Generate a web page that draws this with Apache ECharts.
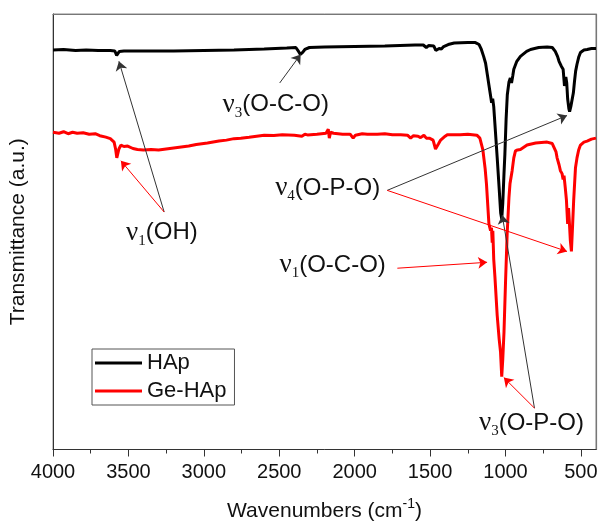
<!DOCTYPE html>
<html>
<head>
<meta charset="utf-8">
<script src="https://cdn.jsdelivr.net/npm/echarts@6/dist/echarts.min.js"></script>
<style>
  html, body { margin: 0; padding: 0; background: #fff; }
  #main { width: 602px; height: 527px; }
</style>
</head>
<body>
<div id="main"></div>
<script>
// wavenumber (cm-1) and transmittance (a.u.)
var hapWave = [4000, 3930, 3850, 3780, 3700, 3620, 3590, 3578, 3570, 3560, 3530, 3400, 3200, 3000, 2800, 2600, 2450, 2390, 2372, 2360, 2345, 2330, 2300, 2200, 2000, 1800, 1600, 1545, 1525, 1510, 1475, 1462, 1452, 1440, 1425, 1410, 1380, 1340, 1250, 1200, 1175, 1160, 1145, 1132, 1120, 1110, 1100, 1092, 1085, 1078, 1070, 1055, 1042, 1032, 1025, 1018, 1010, 1004, 996, 988, 977, 968, 960, 952, 945, 925, 901, 860, 834, 780, 724, 690, 670, 655, 645, 630, 618, 609, 600, 594, 588, 580, 575, 567, 559, 550, 543, 535, 526, 515, 503, 480, 459, 430, 400];
var hapT = [405.5, 406, 405, 405.5, 405, 405, 404.5, 400, 399.5, 404, 404.5, 404.5, 404.5, 405, 405.5, 406.5, 407.5, 408, 404, 401, 403, 406, 408, 408.5, 409, 409.5, 410.5, 410.5, 408, 410, 409.5, 405, 403.5, 407, 406.5, 409, 411, 412.5, 413, 413, 411, 406, 399, 392, 380, 370, 360, 352, 356, 348, 330, 296, 265, 240, 234, 250, 280, 300, 335, 360, 373, 377, 372, 379, 386, 394, 399, 404, 406, 408, 408.5, 408, 404, 399, 394, 389, 386, 369, 378, 372, 356, 346, 343, 348, 349, 362, 373, 384, 391, 398, 403, 405.5, 406, 407, 407];

var geWave = [4000, 3960, 3930, 3900, 3870, 3840, 3800, 3760, 3720, 3690, 3650, 3620, 3595, 3585, 3577, 3570, 3563, 3550, 3530, 3505, 3470, 3440, 3400, 3350, 3300, 3250, 3200, 3150, 3100, 3050, 2976, 2900, 2850, 2800, 2755, 2700, 2650, 2600, 2536, 2480, 2400, 2350, 2330, 2313, 2250, 2190, 2175, 2168, 2160, 2140, 2080, 2030, 2010, 1995, 1950, 1916, 1850, 1800, 1750, 1695, 1650, 1629, 1610, 1580, 1563, 1541, 1525, 1519, 1505, 1480, 1464, 1455, 1445, 1430, 1419, 1400, 1386, 1300, 1250, 1190, 1170, 1150, 1135, 1126, 1118, 1110, 1099, 1093, 1088, 1084, 1078, 1070, 1055, 1042, 1033, 1025, 1018, 1010, 1000, 989, 977, 970, 962, 956, 945, 934, 920, 901, 857, 800, 724, 690, 680, 665, 658, 645, 636, 625, 618, 612, 604, 596, 588, 582, 577, 570, 563, 555, 548, 536, 526, 515, 503, 480, 459, 430, 400];
var geT = [322, 321, 322.5, 320.5, 322, 321, 321.5, 320, 320.5, 318.5, 317, 315.5, 312, 305, 296, 298, 305, 309, 307.5, 308, 305.5, 304.5, 304, 304.5, 304, 305, 306, 307, 308, 309.5, 311, 313, 314, 315.5, 316, 317, 318, 319, 318.7, 319.5, 319, 318, 320, 319.3, 320, 321, 325, 316, 322, 321, 320, 320, 316, 319, 320.5, 320, 320, 320.5, 319.5, 319.5, 319, 316, 318.5, 318, 316.5, 319, 316, 314, 316, 314, 305, 303, 310, 314, 314.5, 318, 319.5, 319.5, 320, 319, 316, 304, 285, 269, 249, 229, 222, 225, 210, 222, 193, 175, 136, 112, 99, 74, 92, 119, 169, 219, 256, 270, 268, 283, 296, 303, 304, 304.5, 309, 311, 312, 310.5, 309, 302, 296, 289, 283, 280, 274, 278, 266, 253, 229, 245, 232, 212, 201, 228, 253, 286, 296, 304, 309, 312, 313, 315, 316];

var majorTicks = [500, 1000, 1500, 2000, 2500, 3000, 3500, 4000];
var minorTicks = [750, 1250, 1750, 2250, 2750, 3250, 3750];

// band labels: [text, wavenumber, transmittance]
var bandLabels = [
  ['{nu|ν}{sub|3}{t|(O-C-O)}', 2523, 350],
  ['{nu|ν}{sub|1}{t|(OH)}', 3278, 220],
  ['{nu|ν}{sub|4}{t|(O-P-O)}', 2179, 265],
  ['{nu|ν}{sub|1}{t|(O-C-O)}', 2146, 187],
  ['{nu|ν}{sub|3}{t|(O-P-O)}', 828, 27]
];
// arrows: [from wavenumber, from T, to wavenumber, to T]
var blackArrows = [
  [2497, 372, 2358, 401],
  [3263, 241, 3563, 394],
  [1784, 263, 592, 339],
  [808, 42, 1022, 238]
];
var redArrows = [
  [3263, 241, 3550, 293],
  [1784, 263, 592, 201],
  [1717, 184, 1122, 190],
  [808, 42, 1011, 73]
];

function pairs(xs, ys) {
  var out = [];
  for (var i = 0; i < xs.length; i++) out.push([xs[i], ys[i]]);
  return out;
}
function arrowData(list) {
  return list.map(function (a) {
    return [{ coord: [a[0], a[1]] }, { coord: [a[2], a[3]] }];
  });
}

var sans = 'Liberation Sans';
var richText = {
  nu: { fontFamily: 'Liberation Serif', fontSize: 27, color: '#111' },
  sub: { fontFamily: 'Liberation Serif', fontSize: 15, color: '#111', padding: [16, 0, 0, 0] },
  t: { fontFamily: sans, fontSize: 24, color: '#111' }
};

var myChart = echarts.init(document.getElementById('main'));
myChart.setOption({
  animation: false,
  backgroundColor: '#fff',
  grid: {
    left: 52, right: 6, top: 14, bottom: 71,
    show: true, borderColor: '#888', borderWidth: 1
  },
  legend: {
    data: ['HAp', 'Ge-HAp'],
    orient: 'vertical',
    left: 92, top: 349,
    icon: 'rect',
    itemWidth: 47, itemHeight: 3, itemGap: 6,
    borderColor: '#555', borderWidth: 1,
    padding: [3, 8, 3, 3],
    textStyle: { fontFamily: sans, fontSize: 22, color: '#111' }
  },
  xAxis: [{
    type: 'value',
    inverse: true,
    min: 400, max: 4000,
    name: 'Wavenumbers (cm{sup|-1})',
    nameLocation: 'middle',
    nameGap: 48,
    nameTextStyle: {
      fontFamily: sans, fontSize: 21, color: '#111',
      rich: { sup: { fontFamily: sans, fontSize: 14, color: '#111', padding: [0, 0, 14, 0] } }
    },
    axisLine: { lineStyle: { color: '#333', width: 1 } },
    axisTick: { customValues: majorTicks, length: 7, lineStyle: { color: '#333' } },
    axisLabel: {
      customValues: majorTicks, margin: 13,
      fontFamily: sans, fontSize: 20, color: '#111',
      formatter: function (v) { return String(v); }
    },
    splitLine: { show: false }
  }, {
    type: 'value',
    inverse: true,
    min: 400, max: 4000,
    position: 'bottom',
    axisLine: { show: false },
    axisTick: { customValues: minorTicks, length: 4, lineStyle: { color: '#333' } },
    axisLabel: { show: false },
    splitLine: { show: false }
  }, {
    type: 'value',
    inverse: true,
    min: 400, max: 4000,
    position: 'top',
    axisLine: { show: true, lineStyle: { color: '#777', width: 1.2 } },
    axisTick: { show: false },
    axisLabel: { show: false },
    splitLine: { show: false }
  }],
  yAxis: [{
    type: 'value',
    min: 0, max: 442,
    name: 'Transmittance (a.u.)',
    nameLocation: 'middle',
    nameGap: 24,
    nameTextStyle: { fontFamily: sans, fontSize: 21, color: '#111' },
    axisLine: { show: true, lineStyle: { color: '#333', width: 1 } },
    axisTick: { show: false },
    axisLabel: { show: false },
    splitLine: { show: false }
  }, {
    type: 'value',
    min: 0, max: 442,
    position: 'right',
    axisLine: { show: true, lineStyle: { color: '#777', width: 1.2 } },
    axisTick: { show: false },
    axisLabel: { show: false },
    splitLine: { show: false }
  }],
  series: [{
    name: 'HAp',
    type: 'line',
    xAxisIndex: 0,
    yAxisIndex: 0,
    showSymbol: false,
    color: '#000',
    lineStyle: { color: '#000', width: 3 },
    data: pairs(hapWave, hapT),
    markLine: {
      silent: true,
      symbol: ['none', 'arrow'],
      symbolSize: 9,
      label: { show: false },
      itemStyle: { color: '#333' },
      lineStyle: { color: '#333', width: 1, type: 'solid' },
      data: arrowData(blackArrows)
    },
    markPoint: {
      silent: true,
      symbol: 'rect',
      symbolSize: 1,
      itemStyle: { color: 'rgba(0,0,0,0)' },
      label: { show: true, position: 'inside', rich: richText },
      data: bandLabels.map(function (l) {
        return { coord: [l[1], l[2]], label: { formatter: l[0] } };
      })
    }
  }, {
    name: 'Ge-HAp',
    type: 'line',
    xAxisIndex: 0,
    yAxisIndex: 0,
    showSymbol: false,
    color: '#ff0000',
    lineStyle: { color: '#ff0000', width: 3 },
    data: pairs(geWave, geT),
    markLine: {
      silent: true,
      symbol: ['none', 'arrow'],
      symbolSize: 9,
      label: { show: false },
      itemStyle: { color: '#ff0000' },
      lineStyle: { color: '#ff0000', width: 1, type: 'solid' },
      data: arrowData(redArrows)
    }
  }]
});
</script>
</body>
</html>
